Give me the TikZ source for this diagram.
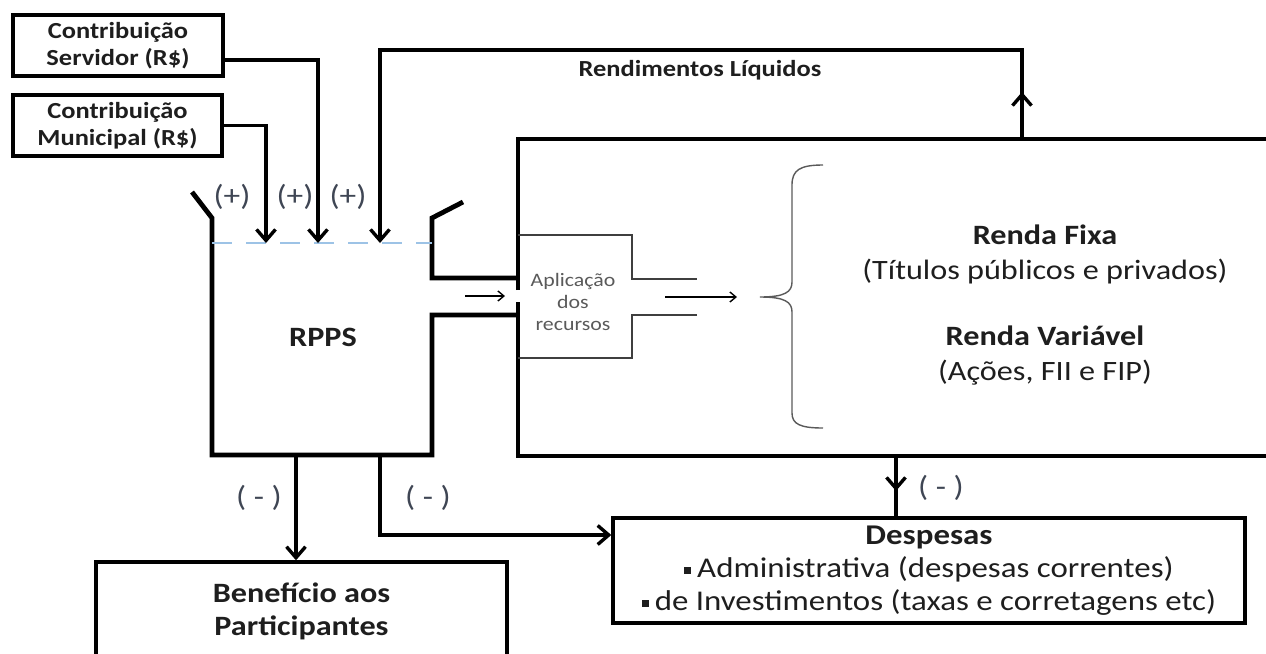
\documentclass[tikz,border=0pt]{standalone}
\usepackage{fontspec}
\setmainfont{Carlito}[FakeStretch=1.15]
\usetikzlibrary{arrows.meta}
\definecolor{textocor}{HTML}{1E1E1E}
\definecolor{sinalcor}{HTML}{3F4654}
\definecolor{nivelcor}{HTML}{9DC3E6}
\definecolor{aplicor}{HTML}{5A5A5A}
\newcommand{\grossa}{1.7pt}
\newcommand{\parede}{2.4pt}
\newcommand{\fina}{0.7pt}
\newcommand{\marca}{\rule[1.8pt]{3.4pt}{3.4pt}\hspace{3pt}}
\tikzset{
  caixa/.style={draw, line width=\grossa, align=center, inner sep=0pt, text=textocor},
  linha/.style={line width=\grossa},
  fluxo/.style={line width=\grossa, -{Straight Barb[length=5.5pt,width=9.5pt]}},
  setinha/.style={line width=\fina, -{Straight Barb[length=3pt,width=5pt]}},
  muro/.style={line width=\parede, line join=miter},
  sinal/.style={text=sinalcor, font=\fontsize{14.5}{16}\selectfont},
  titulo/.style={text=textocor, align=center, font=\fontsize{14}{17.5}\selectfont}
}

\begin{document}
\begin{tikzpicture}[x=0.5pt, y=-0.5pt]
\useasboundingbox (0,0) rectangle (1266,654);

% entradas
\node[caixa, minimum width=105pt, minimum height=30.5pt, font=\bfseries\fontsize{11.5}{13.5}\selectfont] (servidor) at (118,45.5) {Contribuição\\Servidor (R\$)};
\node[caixa, minimum width=104.5pt, minimum height=30.5pt, font=\bfseries\fontsize{11.5}{13.5}\selectfont] (municipal) at (117.5,125.5) {Contribuição\\Municipal (R\$)};
\node[text=textocor, font=\bfseries\fontsize{11.5}{13.5}\selectfont] (rendliq) at (700,70) {Rendimentos Líquidos};

% tanque RPPS
\draw[muro] (192,192) -- (212,218) -- (212,455) -- (432,455) -- (432,315) -- (518,315);
\draw[muro] (463,202) -- (432,218) -- (432,278) -- (518,278);
\draw[nivelcor, line width=1pt, dash pattern=on 10pt off 7pt] (212,243) -- (432,243);
\node[text=textocor, font=\bfseries\fontsize{14}{16}\selectfont] (rpps) at (323,337) {RPPS};
\node[sinal] (mais1) at (232,197) {(+)};
\node[sinal] (mais2) at (295,197) {(+)};
\node[sinal] (mais3) at (348,197) {(+)};
\coordinate (nivel1) at (266,243);
\coordinate (nivel2) at (318,243);
\coordinate (nivel3) at (380,243);

% carteira
\draw[linha] (518,290) -- (518,139) -- (1280,139);
\draw[linha] (518,302) -- (518,456) -- (1280,456);
\draw[aplicor!70!black, line width=\fina] (518,235) -- (632,235) -- (632,279) -- (697,279);
\draw[aplicor!70!black, line width=\fina] (697,315) -- (632,315) -- (632,358) -- (518,358);
\node[text=aplicor, align=center, font=\fontsize{9.5}{11}\selectfont] (aplicacao) at (573,302) {Aplicação\\dos\\recursos};
\coordinate (entra1) at (465,296);
\coordinate (entra2) at (505,296);
\coordinate (sai1) at (665,297);
\coordinate (sai2) at (737,297);
\draw[setinha] (entra1) -- (entra2);
\draw[setinha] (sai1) -- (sai2);
\draw[aplicor, line width=\fina] (823,165) .. controls (800,165) and (792,170) .. (792,185) -- (792,282)
  .. controls (792,292) and (785,297) .. (760,297)
  .. controls (785,297) and (792,302) .. (792,312) -- (792,413)
  .. controls (792,424) and (800,428) .. (823,428);
\node[titulo] (fixa) at (1045,254.5) {\textbf{Renda Fixa}\\(Títulos públicos e privados)};
\node[titulo] (variavel) at (1045,355.5) {\textbf{Renda Variável}\\(Ações, FII e FIP)};

% saidas
\node[caixa, minimum width=205.5pt, minimum height=49.5pt, font=\fontsize{14}{16.5}\selectfont] (beneficio) at (301.5,611.5) {\textbf{Benefício aos}\\\textbf{Participantes}};
\node[caixa, minimum width=316pt, minimum height=52.5pt, font=\fontsize{14.3}{16.5}\selectfont] (despesas) at (929,570.5) {\textbf{Despesas}\\\marca Administrativa (despesas correntes)\\\marca de Investimentos (taxas e corretagens etc)};
\coordinate (saida1) at (296,455);
\coordinate (saida2) at (380,455);
\coordinate (saida3) at (896,456);
\coordinate (rendtop) at (1022,139);
\coordinate (rendcanto) at (1022,50);

% conectores
\draw[fluxo] ([yshift=-7.25pt]servidor.east) -| (nivel2);
\draw[fluxo] (municipal.east) -| (nivel1);
\draw[fluxo] (rendtop) -- (rendcanto) -| (nivel3);
\draw[fluxo] (rendtop) -- ++(0,-47);
\draw[fluxo] (saida1) -- (saida1 |- beneficio.north);
\draw[fluxo] (saida2) |- ([yshift=17.75pt]despesas.west);
\draw[linha] (saida3) -- (saida3 |- despesas.north);
\draw[fluxo] (saida3) -- ++(0,35);
\node[sinal] (menos1) at (259,498) {( - )};
\node[sinal] (menos2) at (428,498) {( - )};
\node[sinal] (menos3) at (941,488) {( - )};
\end{tikzpicture}
\end{document}
